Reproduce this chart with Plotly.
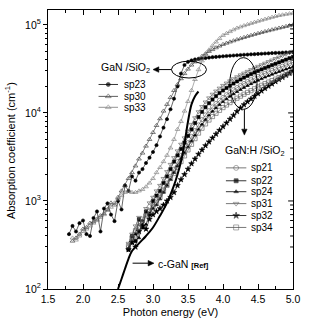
import math
import plotly.graph_objects as go

# ---------------- data ----------------
E_A = [1.80, 1.85, 1.90, 1.95, 2.00, 2.05, 2.10, 2.15, 2.20, 2.25, 2.30, 2.35, 2.40, 2.45,
       2.50, 2.55, 2.60, 2.65, 2.70, 2.75, 2.80, 2.85, 2.90, 2.95, 3.00, 3.05, 3.10, 3.15,
       3.20, 3.25, 3.30, 3.35, 3.40, 3.45, 3.50, 3.55, 3.60, 3.65, 3.70, 3.75, 3.80, 3.85,
       3.90, 3.95, 4.00, 4.05, 4.10, 4.15, 4.20, 4.25, 4.30, 4.35, 4.40, 4.45, 4.50, 4.55,
       4.60, 4.65, 4.70, 4.75, 4.80, 4.85, 4.90, 4.95, 5.00]
sp23 = [420, 520, 450, 560, 600, 420, 400, 640, 760, 450, 820, 940, 700, 590,
        1000, 800, 1500, 1300, 1900, 1700, 2100, 2300, 2700, 3100, 3600, 4300, 5400, 6800,
        8500, 11000, 14500, 20000, 28000, 35000, 38000, 39500, 40500, 41000, 41500, 42000, 42500, 43000,
        43300, 43600, 44000, 44300, 44600, 44900, 45200, 45500, 45800, 46000, 46300, 46500, 46800, 47000,
        47300, 47500, 47800, 48000, 48200, 48400, 48600, 48800, 49000]

E_A2 = E_A[1:]
sp30 = [350, 380, 420, 480, 500, 560, 580, 620, 680, 720, 800, 950, 900,
        1100, 1300, 1500, 1800, 2100, 2500, 3000, 3500, 4200, 5000, 6000, 7200, 8600, 10500,
        12500, 15000, 18000, 21000, 24500, 28000, 31500, 35000, 38000, 41000, 44000, 47000, 50000, 52500,
        55000, 57500, 60000, 62000, 64000, 66000, 68000, 70000, 72000, 74000, 76000, 78000, 80000, 82000,
        84000, 86000, 88000, 90000, 92000, 94000, 96000, 98000, 100000]
sp33 = [380, 360, 400, 450, 480, 520, 560, 600, 650, 700, 780, 850, 950,
        1050, 1150, 1250, 1300, 1250, 1250, 1300, 1350, 1450, 1600, 1800, 2100, 2400, 2800,
        3300, 4000, 5000, 6500, 8000, 10500, 13500, 18000, 24000, 31000, 39000, 46000, 52000, 58000,
        64000, 70000, 76000, 80000, 84000, 88000, 92000, 95000, 98000, 101000, 104000, 107000, 110000, 113000,
        116000, 119000, 122000, 125000, 128000, 130000, 132000, 134000, 136000]

E_B = E_A[17:]  # 2.65 ... 5.00
sp21 = [300, 360, 450, 560, 520, 700, 780, 900, 1000, 1150, 1350, 1600, 1900, 2300,
        2800, 3300, 3900, 4600, 5400, 6300, 7300, 8400, 9500, 10600, 11700, 12800, 13900, 15000,
        16100, 17200, 18300, 19400, 20500, 21600, 22700, 23800, 24900, 26000, 27100, 28200, 29300, 30400,
        31500, 32700, 33900, 35100, 36300, 37500]
sp22 = [280, 400, 350, 620, 500, 760, 700, 1000, 1150, 1300, 1600, 1900, 2300, 2800,
        3300, 3900, 4600, 5500, 6500, 7700, 9000, 10300, 11600, 12900, 14200, 15500, 16800, 18000,
        19200, 20400, 21600, 22800, 24000, 25200, 26400, 27600, 28800, 30000, 31200, 32400, 33600, 34900,
        36200, 37500, 38900, 40300, 41800, 43300]
sp24 = [290, 330, 420, 380, 600, 540, 720, 820, 900, 1050, 1250, 1500, 1750, 2100,
        2500, 3000, 3500, 4100, 4800, 5600, 6500, 7400, 8400, 9400, 10400, 11400, 12400, 13400,
        14400, 15400, 16400, 17400, 18400, 19400, 20400, 21400, 22400, 23400, 24400, 25400, 26400, 27400,
        28400, 29400, 30400, 31400, 32400, 33500]
sp31 = [330, 420, 520, 650, 600, 820, 950, 1100, 1300, 1500, 1800, 2150, 2600, 3100,
        3700, 4400, 5200, 6200, 7400, 8800, 10300, 11800, 13300, 14800, 16300, 17700, 19100, 20500,
        21800, 23100, 24400, 25700, 27000, 28300, 29600, 31000, 32400, 33800, 35200, 36700, 38200, 39800,
        41400, 43000, 44700, 46400, 48200, 50000]
sp32 = [280, 340, 300, 450, 520, 480, 620, 700, 760, 820, 900, 1000, 1100, 1250,
        1500, 1750, 2000, 2300, 2650, 3000, 3400, 3800, 4250, 4700, 5200, 5750, 6350, 7000,
        7700, 8500, 9400, 10400, 11400, 12400, 13400, 14400, 15500, 16600, 17800, 19000, 20200, 21400,
        22700, 24000, 25400, 26800, 28300, 30000]
sp34 = [310, 380, 460, 500, 620, 680, 760, 850, 950, 1100, 1300, 1500, 1800, 2050,
        2400, 2800, 3250, 3800, 4400, 5100, 5900, 6700, 7500, 8300, 9100, 9900, 10700, 11500,
        12300, 13100, 13900, 14700, 15500, 16300, 17100, 17900, 18800, 19700, 20600, 21500, 22400, 23300,
        24200, 25200, 26200, 27200, 28200, 29300]

E_ref = [2.50, 2.55, 2.60, 2.65, 2.70, 2.80, 2.90, 3.00, 3.10, 3.20, 3.30, 3.35, 3.40, 3.45, 3.50, 3.55, 3.60, 3.65]
cGaN = [100, 130, 170, 220, 270, 330, 400, 500, 680, 950, 1500, 2000, 2800, 4500, 8000, 12500, 15500, 17500]

x_ticks = [1.5, 2.0, 2.5, 3.0, 3.5, 4.0, 4.5, 5.0]
y_ticks = [100, 1000, 10000, 100000]
y_ticktext = ["10<sup>2</sup>", "10<sup>3</sup>", "10<sup>4</sup>", "10<sup>5</sup>"]

group1 = [  # name, x, y, symbol, color
    ("sp23", E_A, sp23, "circle", "#000000"),
    ("sp30", E_A2, sp30, "triangle-up-open", "#333333"),
    ("sp33", E_A2, sp33, "triangle-up-open", "#777777"),
]
group2 = [
    ("sp21", E_B, sp21, "circle-open", "#555555"),
    ("sp22", E_B, sp22, "square", "#000000"),
    ("sp24", E_B, sp24, "triangle-up", "#000000"),
    ("sp31", E_B, sp31, "triangle-down-open", "#555555"),
    ("sp32", E_B, sp32, "star", "#000000"),
    ("sp34", E_B, sp34, "square-open", "#555555"),
]

FONT = "Liberation Sans, Arial, sans-serif"
W, H = 309, 325
L, R, T, B = 48, 9, 10, 34
PW, PH = W - L - R, H - T - B
X_RANGE = [1.5, 5.0]
Y_RANGE = [2, 5.169]  # log10


def px(x):
    return (x - L) / PW


def py(y):
    return (H - B - y) / PH


def ex(x):
    return X_RANGE[0] + (x - L) / PW * (X_RANGE[1] - X_RANGE[0])


def ey(y):
    return 10 ** (Y_RANGE[0] + (H - B - y) / PH * (Y_RANGE[1] - Y_RANGE[0]))


def yfrac(v):  # data value on the log axis -> paper fraction
    return (math.log10(v) - Y_RANGE[0]) / (Y_RANGE[1] - Y_RANGE[0])


def msize(sym):
    return 3.2 if sym in ("circle", "square", "triangle-up") else 4.2


fig = go.Figure()

for name, xs, ys, sym, col in group1 + group2:
    fig.add_trace(go.Scatter(
        x=xs, y=ys, mode="lines+markers", name=name, showlegend=False,
        line=dict(color=col, width=0.6),
        marker=dict(symbol=sym, size=msize(sym), color=col, line=dict(width=0.6, color=col)),
    ))

fig.add_trace(go.Scatter(x=E_ref, y=cGaN, mode="lines", line=dict(color="black", width=2, shape="spline"),
                         showlegend=False))

leg1_y = [85, 97, 108]
leg2_y = [169, 182, 193, 205, 217, 229]
ann = []


def legend_sample(name, sym, col, x0, x1, yy, xt):
    fig.add_trace(go.Scatter(x=[ex(x0), ex((x0 + x1) / 2), ex(x1)], y=[ey(yy)] * 3,
                             mode="lines+markers", showlegend=False, hoverinfo="skip",
                             line=dict(color=col, width=0.8),
                             marker=dict(symbol=sym, size=[0, msize(sym) + 0.8, 0], color=col,
                                         line=dict(width=0.7, color=col))))
    ann.append(dict(x=px(xt), y=py(yy), text=name, xanchor="left", yanchor="middle", showarrow=False,
                    font=dict(size=10, color="black", family=FONT)))


for (name, xs, ys, sym, col), yy in zip(group1, leg1_y):
    legend_sample(name, sym, col, 100, 120, yy, 124)
for (name, xs, ys, sym, col), yy in zip(group2, leg2_y):
    legend_sample(name, sym, col, 231, 252, yy, 255)

ann += [
    dict(x=px(100), y=py(68), text="GaN /SiO<sub>2</sub>", xanchor="left", yanchor="middle", showarrow=False,
         font=dict(size=10.5, color="black", family=FONT)),
    dict(x=px(228), y=py(152), text="GaN:H /SiO<sub>2</sub>", xanchor="left", yanchor="middle", showarrow=False,
         font=dict(size=10.5, color="black", family=FONT)),
    dict(x=px(159), y=py(266), text="c-GaN <span style='font-size:7.5px'><b>[Ref]</b></span>",
         xanchor="left", yanchor="middle", showarrow=False, font=dict(size=10.5, color="black", family=FONT)),
    dict(x=px(9), y=py(152), text="Absorption coefficient (cm<sup>-1</sup>)", textangle=-90,
         xanchor="center", yanchor="middle", showarrow=False, font=dict(size=11, color="black", family=FONT)),
]
for a in ann:
    a.setdefault("xref", "paper")
    a.setdefault("yref", "paper")


def arrow(x_tail, y_tail, x_head, y_head, hl=6, hw=2.8):
    dx, dy = x_head - x_tail, y_head - y_tail
    n = (dx * dx + dy * dy) ** 0.5
    ux, uy = dx / n, dy / n
    bx, by = x_head - ux * hl, y_head - uy * hl
    p1 = (bx - uy * hw, by + ux * hw)
    p2 = (bx + uy * hw, by - ux * hw)
    line = dict(type="line", xref="paper", yref="paper", x0=px(x_tail), y0=py(y_tail), x1=px(bx), y1=py(by),
                line=dict(color="black", width=1))
    path = "M {:.5f},{:.5f} L {:.5f},{:.5f} L {:.5f},{:.5f} Z".format(
        px(x_head), py(y_head), px(p1[0]), py(p1[1]), px(p2[0]), py(p2[1]))
    head = dict(type="path", xref="paper", yref="paper", path=path, fillcolor="black",
                line=dict(color="black", width=0.5))
    return [line, head]


shapes = [
    dict(type="circle", xref="paper", yref="paper", x0=px(175), x1=px(211), y0=py(78.5), y1=py(61.5),
         line=dict(color="black", width=1)),
    dict(type="circle", xref="paper", yref="paper", x0=px(235), x1=px(263), y0=py(110), y1=py(58),
         line=dict(color="black", width=1)),
]
shapes += arrow(175, 70, 156, 70)
shapes += arrow(250, 110, 250, 136)
shapes += arrow(135, 265, 157, 265)

minor_y = [m * 10 ** d for d in range(2, 6) for m in range(2, 10)]

# right-hand axis ticks (pointing inwards)
for v in y_ticks + minor_y:
    f = yfrac(v)
    if 0 < f <= 1:
        tl = 5 if v in y_ticks else 3
        shapes.append(dict(type="line", xref="paper", yref="paper", x0=1, x1=1 - tl / PW, y0=f, y1=f,
                           line=dict(color="black", width=1)))

fig.update_layout(
    width=W, height=H, margin=dict(l=L, r=R, t=T, b=B),
    paper_bgcolor="white", plot_bgcolor="white",
    font=dict(family=FONT, size=11, color="black"),
    annotations=ann, shapes=shapes, showlegend=False,
    xaxis=dict(range=X_RANGE, tickvals=x_ticks, ticktext=[f"{v:.1f}" for v in x_ticks],
               ticks="inside", ticklen=5, tickwidth=1, tickcolor="black", mirror="allticks",
               showline=True, linecolor="black", linewidth=1, showgrid=False, zeroline=False,
               minor=dict(ticks="inside", ticklen=3, dtick=0.25, tick0=1.5, tickcolor="black", showgrid=False),
               tickfont=dict(size=10.5), title=dict(text="Photon energy (eV)", font=dict(size=11), standoff=4)),
    yaxis=dict(type="log", range=Y_RANGE, tickmode="array", tickvals=y_ticks, ticktext=y_ticktext,
               ticks="outside", ticklen=4, tickcolor="black", mirror=True,
               showline=True, linecolor="black", linewidth=1, showgrid=False, zeroline=False,
               minor=dict(ticks="outside", ticklen=2, tickmode="array", tickvals=minor_y, tickcolor="black",
                          showgrid=False),
               tickfont=dict(size=10.5)),
)

fig.write_html("out.html")
